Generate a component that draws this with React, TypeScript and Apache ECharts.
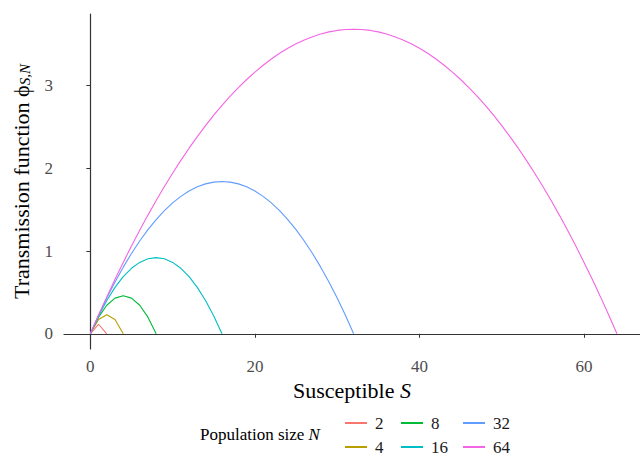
import React, { useEffect, useRef } from "react";
import * as echarts from "echarts";

const populationSizes = ["2", "4", "8", "16", "32", "64"];
const colors = ["#F8766D", "#B79F00", "#00BA38", "#00BFC4", "#619CFF", "#F564E3"];

const phiN2 = [0, 0.115, 0];
const phiN4 = [0, 0.1725, 0.23, 0.1725, 0];
const phiN8 = [0, 0.201, 0.345, 0.431, 0.46, 0.431, 0.345, 0.201, 0];
const phiN16 = [
  0, 0.216, 0.4025, 0.561, 0.69, 0.791, 0.8625, 0.906, 0.92,
  0.906, 0.8625, 0.791, 0.69, 0.561, 0.4025, 0.216, 0,
];
const phiN32 = [
  0, 0.2228, 0.431, 0.6253, 0.805, 0.9703, 1.1213, 1.2578, 1.38, 1.4878, 1.5813,
  1.6603, 1.725, 1.7753, 1.8113, 1.8328, 1.84,
  1.8328, 1.8113, 1.7753, 1.725, 1.6603, 1.5813, 1.4878, 1.38, 1.2578, 1.1213,
  0.9703, 0.805, 0.6253, 0.431, 0.2228, 0,
];
const phiN64 = [
  0, 0.2264, 0.4456, 0.6577, 0.8625, 1.0602, 1.2506, 1.4339, 1.61, 1.7789, 1.9406,
  2.0952, 2.2425, 2.3827, 2.5156, 2.6414, 2.76, 2.8714, 2.9756, 3.0727, 3.1625,
  3.2452, 3.3206, 3.3889, 3.45, 3.5039, 3.5506, 3.5902, 3.6225, 3.6477, 3.6656,
  3.6764, 3.68,
  3.6764, 3.6656, 3.6477, 3.6225, 3.5902, 3.5506, 3.5039, 3.45, 3.3889, 3.3206,
  3.2452, 3.1625, 3.0727, 2.9756, 2.8714, 2.76, 2.6414, 2.5156, 2.3827, 2.2425,
  2.0952, 1.9406, 1.7789, 1.61, 1.4339, 1.2506, 1.0602, 0.8625, 0.6577, 0.4456,
  0.2264, 0,
];
const allPhi = [phiN2, phiN4, phiN8, phiN16, phiN32, phiN64];

const legendRow1 = ["2", "8", "32"];
const legendRow2 = ["4", "16", "64"];

const xTicks = [0, 20, 40, 60];
const yTicks = [0, 1, 2, 3];

const FONT = "'Liberation Serif', 'DejaVu Serif', serif";

export default function App() {
  const ref = useRef<HTMLDivElement>(null);
  useEffect(() => {
    if (!ref.current) return;
    const chart = echarts.init(ref.current, null, { renderer: "svg" });
    const series = allPhi.map((vals, k) => ({
      name: populationSizes[k],
      type: "line",
      data: vals.map((v, i) => [i, v]),
      symbol: "none",
      showSymbol: false,
      lineStyle: { color: colors[k], width: 1.1 },
      itemStyle: { color: colors[k] },
      emphasis: { disabled: true },
    }));
    const colTextWidths = [26, 32, 30];
    const mkData = (names: string[]) =>
      names.map((n, i) => ({
        name: n,
        textStyle: { width: colTextWidths[i] },
      }));
    const legendBase = {
      orient: "horizontal",
      left: 345,
      itemWidth: 22,
      itemHeight: 2,
      itemGap: 0,
      icon: "rect",
      selectedMode: false,
      padding: 0,
      textStyle: {
        fontFamily: FONT,
        fontSize: 17,
        color: "#1a1a1a",
        lineHeight: 18,
        padding: [0, 0, 0, 3],
      },
    };
    chart.setOption({
      animation: false,
      grid: { left: 64, right: 0, top: 14, bottom: 107, containLabel: false, outerBoundsMode: "none" },
      xAxis: {
        type: "value",
        min: -3.2,
        max: 66.8,
        splitLine: { show: false },
        axisLine: { show: true, lineStyle: { color: "#333333", width: 1.2 } },
        axisTick: { show: true, length: 4, lineStyle: { color: "#333333" }, customValues: xTicks },
        axisLabel: {
          customValues: xTicks,
          margin: 9,
          fontFamily: FONT,
          fontSize: 17,
          color: "#4D4D4D",
        },
        name: "{a|Susceptible }{b|S}",
        nameLocation: "middle",
        nameGap: 30,
        nameTextStyle: {
          rich: {
            a: { fontFamily: FONT, fontSize: 22, color: "#000" },
            b: { fontFamily: FONT, fontSize: 22, fontStyle: "italic", color: "#000" },
          },
        },
      },
      yAxis: {
        type: "value",
        min: -0.184,
        max: 3.864,
        splitLine: { show: false },
        axisLine: { show: true, lineStyle: { color: "#333333", width: 1.2 } },
        axisTick: { show: true, length: 4, lineStyle: { color: "#333333" }, customValues: yTicks },
        axisLabel: {
          customValues: yTicks,
          margin: 11,
          fontFamily: FONT,
          fontSize: 17,
          color: "#4D4D4D",
        },
        name: "{a|Transmission function ϕ}{b|S,N}",
        nameLocation: "middle",
        nameGap: 32,
        nameTextStyle: {
          rich: {
            a: { fontFamily: FONT, fontSize: 22, color: "#000" },
            b: {
              fontFamily: FONT,
              fontSize: 15,
              fontStyle: "italic",
              color: "#000",
              verticalAlign: "bottom",
              padding: [6, 0, 0, 0],
            },
          },
        },
      },
      legend: [
        { ...legendBase, top: 414, data: mkData(legendRow1) },
        { ...legendBase, top: 438, data: mkData(legendRow2) },
      ],
      graphic: [
        {
          type: "text",
          left: 200,
          top: 426,
          style: {
            text: "{a|Population size }{b|N}",
            rich: {
              a: { fontFamily: FONT, fontSize: 17, fill: "#000" },
              b: { fontFamily: FONT, fontSize: 17, fontStyle: "italic", fill: "#000" },
            },
          },
        },
      ],
      series,
    });
    return () => chart.dispose();
  }, []);
  return (
    <div
      ref={ref}
      style={{ position: "fixed", left: 0, top: 0, width: 640, height: 456, background: "#fff" }}
    />
  );
}
